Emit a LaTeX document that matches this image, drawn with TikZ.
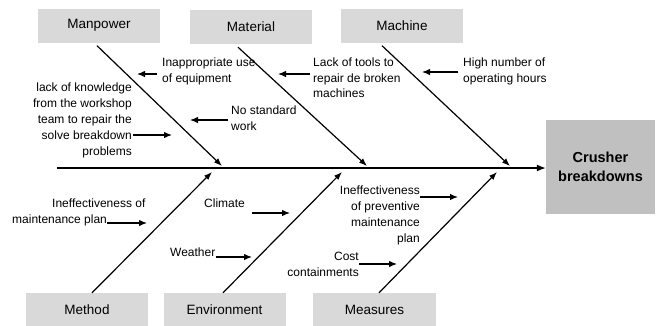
\documentclass[tikz,border=0pt]{standalone}
\usepackage{fontspec}
\setmainfont{Liberation Sans}
\usetikzlibrary{arrows.meta}
\definecolor{catgray}{HTML}{D9D9D9}
\definecolor{headgray}{HTML}{C0C0C0}
\begin{document}
\begin{tikzpicture}[x=1pt,y=-1pt,
  catbox/.style={fill=catgray,draw=none,minimum width=122pt,minimum height=34pt,inner sep=0pt,
    font=\fontsize{13.5}{16}\selectfont},
  headbox/.style={fill=headgray,draw=none,minimum width=109pt,minimum height=94pt,inner sep=0pt,
    align=center,font=\fontsize{14.5}{19}\selectfont\bfseries},
  cause/.style={inner sep=0pt,font=\fontsize{12}{15.5}\selectfont},
  bone/.style={line width=1.2pt,-{Latex[length=8pt,width=6pt]}},
  spine/.style={line width=1.3pt,-{Latex[length=9pt,width=7pt]}},
  arr/.style={line width=1.2pt,-{Latex[length=8pt,width=6.5pt]}}]
\useasboundingbox (0,0) rectangle (658,325);

% category boxes and the effect box
\node[catbox] (manpower) at (99,25.5) {Manpower};
\node[catbox] (material) at (251,27) {Material};
\node[catbox] (machine) at (402,25.5) {Machine};
\node[catbox] (method) at (87,310) {Method};
\node[catbox] (environment) at (224.5,310) {Environment};
\node[catbox,minimum width=123pt] (measures) at (374.5,310) {Measures};
\node[headbox] (crusher) at (600.5,167) {Crusher\\breakdowns};

% spine and joints
\coordinate (tail) at (57,168);
\coordinate (j1) at (222,166);
\coordinate (j2) at (367,166);
\coordinate (j3) at (510,166);
\coordinate (j4) at (212,172);
\coordinate (j5) at (342,172);
\coordinate (j6) at (497,172);
\draw[spine] (tail) -- (tail -| crusher.west);

% bones
\draw[bone] ([xshift=-2pt,yshift=-3pt]manpower.south) -- (j1);
\draw[bone] ([xshift=-13pt,yshift=-3pt]material.south) -- (j2);
\draw[bone] ([xshift=-20pt,yshift=-3pt]machine.south) -- (j3);
\draw[bone] ([xshift=5pt]method.north) -- (j4);
\draw[bone] ([xshift=-1.5pt]environment.north) -- (j5);
\draw[bone] ([xshift=4.5pt]measures.north) -- (j6);

% causes above the spine
\node[cause,anchor=north west,align=left] (t1) at (162,58) {Inappropriate use\\of equipment};
\node[cause,anchor=north east,align=right,font=\fontsize{12}{16}\selectfont] (t2) at (132,83)
  {lack of knowledge\\from the workshop\\team to repair the\\solve breakdown\\problems};
\node[cause,anchor=north west,align=left] (t3) at (231,106) {No standard\\work};
\node[cause,anchor=north west,align=left] (t4) at (313,58) {Lack of tools to\\repair de broken\\machines};
\node[cause,anchor=north west,align=left] (t5) at (463,58) {High number of\\operating hours};

\coordinate (p1) at (137,74);
\coordinate (p2) at (172,135);
\coordinate (p3) at (190,120);
\coordinate (p4) at (278,74);
\coordinate (p5) at (422,72);
\draw[arr] ([xshift=-5pt]t1.west |- p1) -- (p1);
\draw[arr] ([xshift=1pt]t2.east |- p2) -- (p2);
\draw[arr] ([xshift=-3pt]t3.west |- p3) -- (p3);
\draw[arr] ([xshift=-3pt]t4.west |- p4) -- (p4);
\draw[arr] ([xshift=-5pt]t5.west |- p5) -- (p5);

% causes below the spine
\node[cause,anchor=north west] (b1a) at (52,199) {Ineffectiveness of};
\node[cause,anchor=north west] (b1b) at (12,215) {maintenance plan};
\node[cause,anchor=north west] (b2) at (204,199) {Climate};
\node[cause,anchor=north west] (b3) at (170,248) {Weather};
\node[cause,anchor=north east,align=right,font=\fontsize{12}{16}\selectfont] (b4) at (420,186)
  {Ineffectiveness\\of preventive\\maintenance\\plan};
\node[cause,anchor=north east,align=right] (b5) at (359,252) {Cost\\containments};

\coordinate (q1) at (147,223);
\coordinate (q2) at (290,213);
\coordinate (q3) at (252,257);
\coordinate (q4) at (458,197);
\coordinate (q5) at (397,264);
\draw[arr] ([xshift=0pt]b1b.east |- q1) -- (q1);
\draw[arr] ([xshift=7pt]b2.east |- q2) -- (q2);
\draw[arr] ([xshift=0pt]b3.east |- q3) -- (q3);
\draw[arr] ([xshift=0pt]b4.east |- q4) -- (q4);
\draw[arr] ([xshift=0pt]b5.east |- q5) -- (q5);
\end{tikzpicture}
\end{document}
